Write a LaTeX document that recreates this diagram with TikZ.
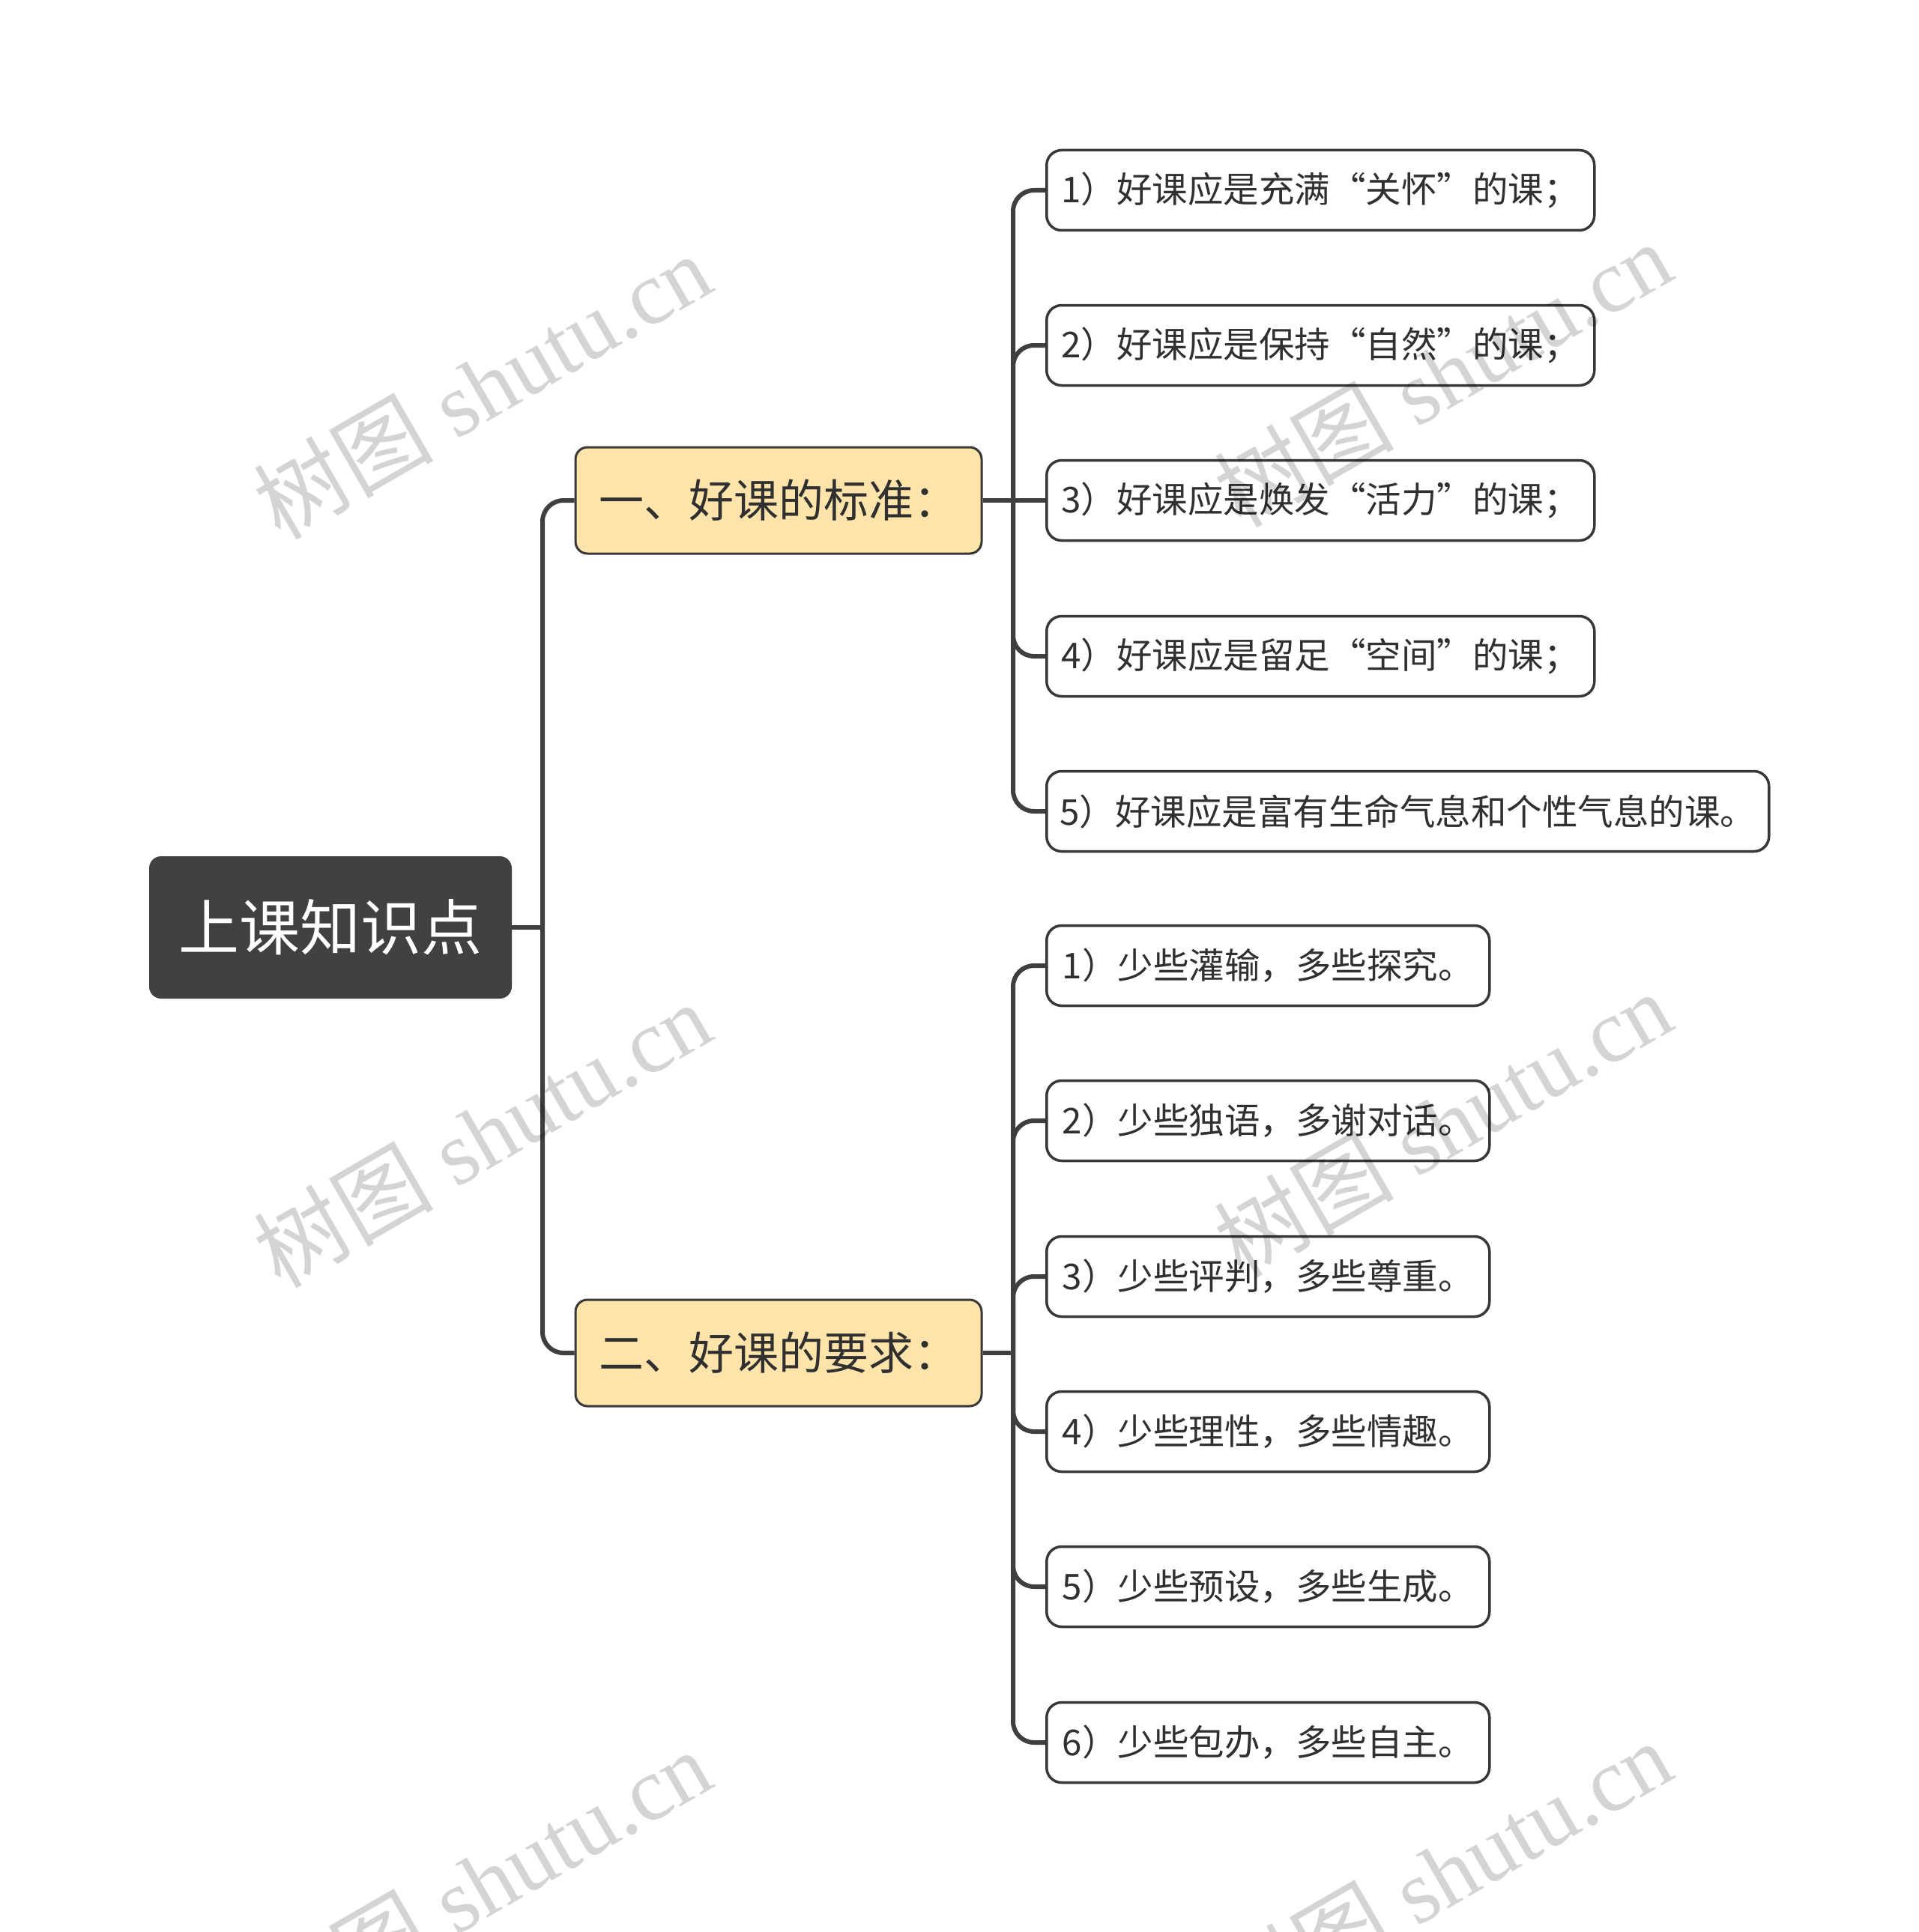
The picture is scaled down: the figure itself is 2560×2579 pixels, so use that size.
\documentclass[tikz,border=0pt]{standalone}
\usepackage{fontspec}
\setmainfont{Noto Sans CJK SC}
\newfontfamily\wmcjk{Noto Sans CJK SC}
\newfontfamily\wmlat{Liberation Serif}
\definecolor{rootgray}{HTML}{414141}
\definecolor{linegray}{HTML}{3F3F3F}
\definecolor{boxline}{HTML}{383838}
\definecolor{paleyellow}{HTML}{FEE4AA}
\definecolor{txtgray}{HTML}{303030}
\begin{document}
\begin{tikzpicture}[x=1pt,y=-1pt,
  rootbox/.style={rounded corners=16pt, fill=rootgray, text=white, minimum width=484pt, minimum height=190pt, inner sep=0pt, font=\fontsize{81}{96}\selectfont},
  lonebox/.style={rounded corners=16pt, draw=boxline, line width=3pt, fill=paleyellow, text=txtgray, minimum width=542pt, minimum height=142pt, inner sep=0pt, font=\fontsize{60}{72}\selectfont},
  ltwobox/.style={rounded corners=20pt, draw=boxline, line width=3.5pt, fill=white, text=txtgray, minimum height=107pt, inner sep=0pt, anchor=west, font=\fontsize{47.5}{57}\selectfont},
  conn/.style={draw=linegray, line width=6pt, rounded corners=28pt},
  wm/.style={rotate=30, text=black, text opacity=0.17, inner sep=0pt}
]
\path[use as bounding box] (0,0) rectangle (2560,2579);
\clip (0,0) rectangle (2560,2579);

% nodes
\node[rootbox] (root) at (441,1238) {上课知识点};
\node[lonebox] (a) at (1039,668) {一、好课的标准：};
\node[lonebox] (b) at (1039,1806) {二、好课的要求：};

\node[ltwobox, minimum width=731pt] (a1) at (1395,254) {1）好课应是充满“关怀”的课；};
\node[ltwobox, minimum width=731pt] (a2) at (1395,461) {2）好课应是保持“自然”的课；};
\node[ltwobox, minimum width=731pt] (a3) at (1395,668) {3）好课应是焕发“活力”的课；};
\node[ltwobox, minimum width=731pt] (a4) at (1395,876) {4）好课应是留足“空间”的课；};
\node[ltwobox, minimum width=964pt] (a5) at (1395,1083) {5）好课应是富有生命气息和个性气息的课。};

\node[ltwobox, minimum width=591pt] (b1) at (1395,1289) {1）少些灌输，多些探究。};
\node[ltwobox, minimum width=591pt] (b2) at (1395,1496) {2）少些独语，多谢对话。};
\node[ltwobox, minimum width=591pt] (b3) at (1395,1704) {3）少些评判，多些尊重。};
\node[ltwobox, minimum width=591pt] (b4) at (1395,1911) {4）少些理性，多些情趣。};
\node[ltwobox, minimum width=591pt] (b5) at (1395,2118) {5）少些预设，多些生成。};
\node[ltwobox, minimum width=591pt] (b6) at (1395,2326) {6）少些包办，多些自主。};

% junctions
\coordinate (j0) at (724,1238);
\coordinate (ja) at (1352,668);
\coordinate (jb) at (1352,1806);

% connectors
\draw[conn] (root.east) -- (j0);
\draw[conn] (j0) |- (a.west);
\draw[conn] (j0) |- (b.west);

\draw[conn] (a.east) -- (ja);
\foreach \n in {a1,a2,a4,a5} { \draw[conn] (ja) |- (\n.west); }
\draw[conn] (ja) -- (a3.west);

\draw[conn] (b.east) -- (jb);
\foreach \n in {b1,b2,b3,b4,b5,b6} { \draw[conn] (jb) |- (\n.west); }

% watermarks
\foreach \p in {(643,515),(643,1514),(643,2512),(1925,499),(1925,1500),(1925,2500)} {
  \node[wm] at \p {\fontsize{120}{130}\selectfont\wmcjk 树图\wmlat{} shutu.cn};
}
\end{tikzpicture}
\end{document}
